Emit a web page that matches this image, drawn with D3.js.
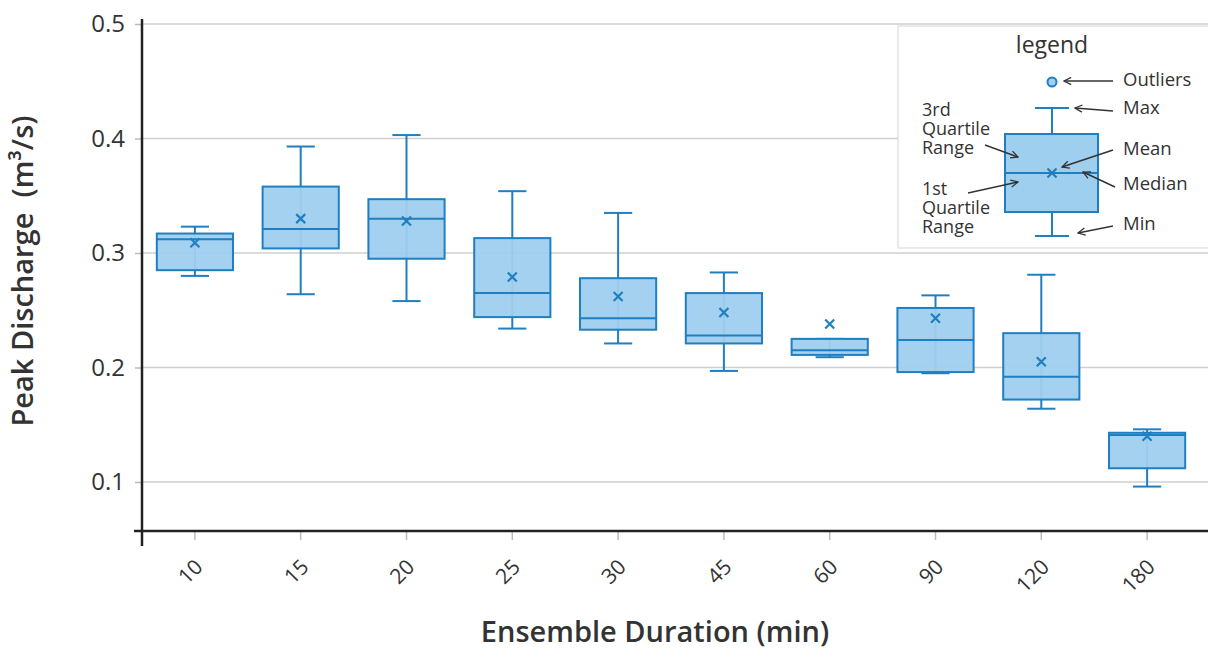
<!DOCTYPE html>
<html>
<head>
<meta charset="utf-8">
<script src="https://cdn.jsdelivr.net/npm/d3@7"></script>
<style>
  body { margin: 0; background: #fff; }
  svg { font-family: "Open Sans", sans-serif; display: block; }
</style>
</head>
<body>
<svg id="chart" width="1208" height="651"></svg>
<script>
// DATA
var categories = ["10", "15", "20", "25", "30", "45", "60", "90", "120", "180"];
var minVals    = [0.280, 0.264, 0.258, 0.234, 0.221, 0.197, 0.209, 0.195, 0.164, 0.096];
var q1Vals     = [0.285, 0.304, 0.295, 0.244, 0.233, 0.221, 0.211, 0.196, 0.172, 0.112];
var medianVals = [0.312, 0.321, 0.330, 0.265, 0.243, 0.228, 0.215, 0.224, 0.192, 0.141];
var q3Vals     = [0.317, 0.358, 0.347, 0.313, 0.278, 0.265, 0.225, 0.252, 0.230, 0.143];
var maxVals    = [0.323, 0.393, 0.403, 0.354, 0.335, 0.283, 0.225, 0.263, 0.281, 0.146];
var meanVals   = [0.309, 0.330, 0.328, 0.279, 0.262, 0.248, 0.238, 0.243, 0.205, 0.140];
var yTicks = [0.1, 0.2, 0.3, 0.4, 0.5];

var boxes = categories.map(function(c, i) {
    return { cat: c, min: minVals[i], q1: q1Vals[i], med: medianVals[i],
             q3: q3Vals[i], max: maxVals[i], mean: meanVals[i] };
});

var stroke = "#1f7fc0";
var fill = "#9fcfee";
var ink = "#333";

var svg = d3.select("#chart");

var x = d3.scaleBand()
    .domain(categories)
    .range([142, 1200])
    .paddingInner(0.28)
    .paddingOuter(0.14);

var y = d3.scaleLinear()
    .domain([0.0572, 0.5])
    .range([531, 24]);

// GRID
svg.append("g")
    .selectAll("line")
    .data(yTicks)
    .enter().append("line")
    .attr("x1", 142).attr("x2", 1208)
    .attr("y1", function(d) { return y(d); })
    .attr("y2", function(d) { return y(d); })
    .attr("stroke", "#cfcfcf")
    .attr("stroke-width", 1.5);

// Y AXIS
var yAxis = svg.append("g")
    .attr("transform", "translate(142,0)")
    .call(d3.axisLeft(y).tickValues(yTicks).tickSize(7).tickPadding(10).tickFormat(d3.format(".1f")));
yAxis.select(".domain").remove();
yAxis.selectAll(".tick line").attr("stroke", "#bbb").attr("stroke-width", 1.5);
yAxis.selectAll(".tick text")
    .attr("font-size", 24)
    .attr("fill", ink)
    .style("font-family", "'Open Sans', sans-serif");

// X AXIS
var xAxis = svg.append("g")
    .attr("transform", "translate(0,531)")
    .call(d3.axisBottom(x).tickSize(9).tickPadding(0));
xAxis.select(".domain").remove();
xAxis.selectAll(".tick line").attr("stroke", "#bbb").attr("stroke-width", 1.5);
xAxis.selectAll(".tick text")
    .attr("font-size", 21)
    .attr("fill", ink)
    .style("font-family", "'Open Sans', sans-serif")
    .attr("text-anchor", "end")
    .attr("x", 0).attr("y", 0)
    .attr("dy", "0.35em")
    .attr("transform", "translate(4,32) rotate(-45)");

// axis lines
svg.append("line")
    .attr("x1", 142).attr("x2", 142).attr("y1", 19).attr("y2", 546)
    .attr("stroke", "#222").attr("stroke-width", 2.5);
svg.append("line")
    .attr("x1", 134).attr("x2", 1208).attr("y1", 531).attr("y2", 531)
    .attr("stroke", "#222").attr("stroke-width", 2.5);

// BOXES
var bw = x.bandwidth();
var capW = bw * 0.37;
var g = svg.append("g").selectAll(".box")
    .data(boxes)
    .enter().append("g")
    .attr("class", "box")
    .attr("transform", function(d) { return "translate(" + (x(d.cat) + bw / 2) + ",0)"; });

g.append("line") // whisker
    .attr("x1", 0).attr("x2", 0)
    .attr("y1", function(d) { return y(d.min); })
    .attr("y2", function(d) { return y(d.max); })
    .attr("stroke", stroke).attr("stroke-width", 2);
g.append("line")
    .attr("x1", -capW / 2).attr("x2", capW / 2)
    .attr("y1", function(d) { return y(d.max); })
    .attr("y2", function(d) { return y(d.max); })
    .attr("stroke", stroke).attr("stroke-width", 2);
g.append("line")
    .attr("x1", -capW / 2).attr("x2", capW / 2)
    .attr("y1", function(d) { return y(d.min); })
    .attr("y2", function(d) { return y(d.min); })
    .attr("stroke", stroke).attr("stroke-width", 2);
g.append("rect")
    .attr("x", -bw / 2).attr("width", bw)
    .attr("y", function(d) { return y(d.q3); })
    .attr("height", function(d) { return y(d.q1) - y(d.q3); })
    .attr("fill", fill).attr("fill-opacity", 0.95)
    .attr("stroke", stroke).attr("stroke-width", 2);
g.append("line")
    .attr("x1", -bw / 2).attr("x2", bw / 2)
    .attr("y1", function(d) { return y(d.med); })
    .attr("y2", function(d) { return y(d.med); })
    .attr("stroke", stroke).attr("stroke-width", 2);
g.append("path")
    .attr("d", "M-4.5,-4.5L4.5,4.5M-4.5,4.5L4.5,-4.5")
    .attr("transform", function(d) { return "translate(0," + y(d.mean) + ")"; })
    .attr("stroke", stroke).attr("stroke-width", 2.2).attr("fill", "none");

// AXIS TITLES
svg.append("text")
    .attr("transform", "translate(33,271) rotate(-90)")
    .attr("text-anchor", "middle")
    .attr("font-size", 29)
    .attr("font-weight", 600)
    .attr("fill", ink)
    .text("Peak Discharge\u00a0 (m\u00b3/s)");

svg.append("text")
    .attr("x", 655).attr("y", 642)
    .attr("text-anchor", "middle")
    .attr("font-size", 29)
    .attr("font-weight", 600)
    .attr("fill", ink)
    .text("Ensemble Duration (min)");

// LEGEND
var defs = svg.append("defs");
defs.append("marker")
    .attr("id", "arr")
    .attr("viewBox", "0 0 10 10")
    .attr("refX", 9).attr("refY", 5)
    .attr("markerWidth", 9).attr("markerHeight", 9)
    .attr("markerUnits", "userSpaceOnUse")
    .attr("orient", "auto")
    .append("path")
    .attr("d", "M1,1L9,5L1,9")
    .attr("fill", "none").attr("stroke", ink).attr("stroke-width", 1.4);

var lg = svg.append("g").attr("transform", "translate(898,26)");
lg.append("rect")
    .attr("x", 0).attr("y", 0).attr("width", 312).attr("height", 222)
    .attr("fill", "#fff").attr("stroke", "#ddd").attr("stroke-width", 1.2);
lg.append("text")
    .attr("x", 154).attr("y", 27)
    .attr("text-anchor", "middle").attr("font-size", 23).attr("fill", ink)
    .text("legend");

var cx = 154;
lg.append("line").attr("x1", cx).attr("x2", cx).attr("y1", 82).attr("y2", 210)
    .attr("stroke", stroke).attr("stroke-width", 2);
lg.append("line").attr("x1", cx - 17).attr("x2", cx + 17).attr("y1", 82).attr("y2", 82)
    .attr("stroke", stroke).attr("stroke-width", 2);
lg.append("line").attr("x1", cx - 17).attr("x2", cx + 17).attr("y1", 210).attr("y2", 210)
    .attr("stroke", stroke).attr("stroke-width", 2);
lg.append("rect").attr("x", 107).attr("y", 108).attr("width", 93).attr("height", 78)
    .attr("fill", fill).attr("stroke", stroke).attr("stroke-width", 2);
lg.append("line").attr("x1", 107).attr("x2", 200).attr("y1", 147).attr("y2", 147)
    .attr("stroke", stroke).attr("stroke-width", 2);
lg.append("path").attr("d", "M-4.5,-4.5L4.5,4.5M-4.5,4.5L4.5,-4.5")
    .attr("transform", "translate(" + cx + ",147)")
    .attr("stroke", stroke).attr("stroke-width", 2.2).attr("fill", "none");
lg.append("circle").attr("cx", cx).attr("cy", 56).attr("r", 4.5)
    .attr("fill", fill).attr("stroke", stroke).attr("stroke-width", 2);

var rightLabels = [
    { t: "Outliers", y: 54, a: [215, 55, 166, 55] },
    { t: "Max", y: 82, a: [215, 85, 177, 82] },
    { t: "Mean", y: 123, a: [215, 124, 164, 141] },
    { t: "Median", y: 158, a: [217, 161, 185, 146] },
    { t: "Min", y: 198, a: [215, 200, 180, 207] }
];
rightLabels.forEach(function(l) {
    lg.append("text").attr("x", 225).attr("y", l.y).attr("dy", "0.35em")
        .attr("font-size", 18.5).attr("fill", ink).text(l.t);
    lg.append("line")
        .attr("x1", l.a[0]).attr("y1", l.a[1]).attr("x2", l.a[2]).attr("y2", l.a[3])
        .attr("stroke", ink).attr("stroke-width", 1.4).attr("marker-end", "url(#arr)");
});

var leftLabels = [
    { t: "3rd", y: 84 }, { t: "Quartile", y: 103 }, { t: "Range", y: 122 },
    { t: "1st", y: 163 }, { t: "Quartile", y: 182 }, { t: "Range", y: 201 }
];
leftLabels.forEach(function(l) {
    lg.append("text").attr("x", 24).attr("y", l.y).attr("dy", "0.35em")
        .attr("font-size", 18).attr("fill", ink).text(l.t);
});
lg.append("line").attr("x1", 87).attr("y1", 119).attr("x2", 120).attr("y2", 131)
    .attr("stroke", ink).attr("stroke-width", 1.4).attr("marker-end", "url(#arr)");
lg.append("line").attr("x1", 70).attr("y1", 167).attr("x2", 120).attr("y2", 156)
    .attr("stroke", ink).attr("stroke-width", 1.4).attr("marker-end", "url(#arr)");
</script>
</body>
</html>
